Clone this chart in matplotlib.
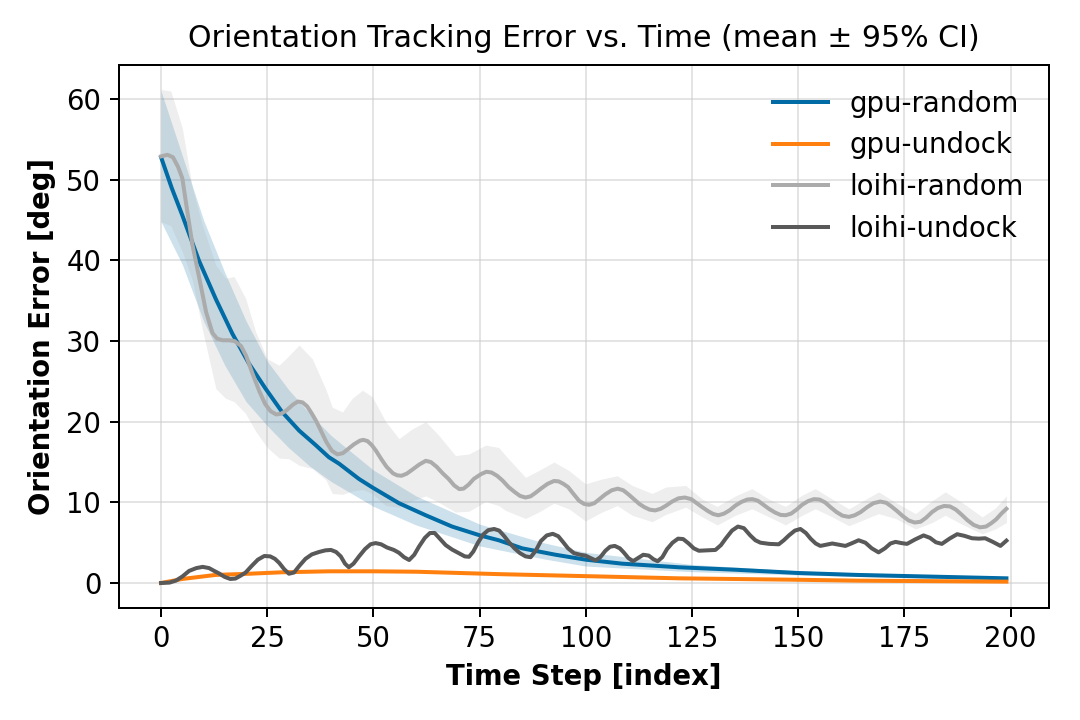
import matplotlib
matplotlib.use("Agg")
import matplotlib.pyplot as plt

# ---------------- data ----------------
series_names = ["gpu-random", "gpu-undock", "loihi-random", "loihi-undock"]

# gpu-random mean and CI
gpu_random_t = [0, 2.5, 5, 8.9, 12.9, 16.8, 20.7, 24.6, 28.5, 32.5, 36.4, 39.5, 41.9, 46.6,
                49.9, 56, 62.3, 68.5, 75.1, 79.5, 85, 92.9, 99.9, 108.5, 121.9, 135,
                150, 164, 199]
gpu_random_mean = [52.8, 49.0, 45.6, 40.0, 35.2, 30.9, 27.2, 24.1, 21.2, 18.9, 17.1, 15.6, 14.8,
                   12.9, 11.8, 9.9, 8.4, 7.0, 5.9, 5.3, 4.3, 3.5, 2.9, 2.4, 1.95, 1.65,
                   1.24, 1.0, 0.58]
gpu_random_ci_t = [0, 5, 10, 15, 20, 25, 30, 35, 40, 50, 60, 75, 90, 100, 125, 150, 175, 199]
gpu_random_hi = [61.0, 53.0, 45.0, 38.5, 32.5, 27.5, 24.0, 21.0, 18.3, 14.0, 10.8, 7.3,
                 5.0, 3.8, 2.3, 1.5, 1.05, 0.75]
gpu_random_lo = [44.8, 39.5, 32.5, 27.0, 22.5, 19.5, 16.8, 14.5, 12.6, 9.5, 7.2, 4.6,
                 3.0, 2.1, 1.4, 1.0, 0.65, 0.42]

# gpu-undock mean and CI
gpu_undock_t = [0, 5, 12.8, 20.7, 28.5, 39.5, 50, 60, 79.5, 100, 122, 150, 164, 199]
gpu_undock_mean = [0.0, 0.5, 1.0, 1.15, 1.33, 1.45, 1.45, 1.4, 1.1, 0.85, 0.58, 0.4, 0.29, 0.17]
gpu_undock_hi = [0.05, 0.6, 1.1, 1.27, 1.45, 1.57, 1.57, 1.52, 1.2, 0.95, 0.66, 0.47, 0.35, 0.22]
gpu_undock_lo = [0.0, 0.4, 0.9, 1.03, 1.21, 1.33, 1.33, 1.28, 1.0, 0.75, 0.5, 0.33, 0.23, 0.12]

# loihi-random mean
loihi_random_t = [0, 1.5, 2.8, 4, 5, 6.2, 7.4, 9, 10.6, 12.1, 13.2, 14.5, 16, 17.3, 18.8,
                  20, 21.5, 23.2, 24.5, 25.8, 27.1, 28.3, 29.5, 31, 32.2, 33.3, 34.4, 35.5,
                  36.6, 37.8, 38.9, 40.2, 41.5, 42.8, 44, 45.4, 46.8, 47.6, 48.6, 49.6,
                  50.6, 51.8, 53.1, 54.6, 55.6, 56.6, 57.8, 59, 60.8, 62.3, 63.5, 64.9,
                  66.3, 67.7, 69, 70.2, 71.2, 72.4, 73.6, 75.3, 76.6, 77.8, 79.1, 80.4,
                  81.8, 83.2, 84.5, 85.8, 87, 88.2, 89.4, 91, 92.5, 93.6, 94.7, 95.8, 97,
                  98.4, 99.6, 100.8, 102, 103.2, 104.6, 106.1, 107.5, 108.8, 110, 111.3,
                  112.6, 113.8, 115, 116.3, 117.6, 118.9, 120.3, 121.8, 123.3, 124.8,
                  126.1, 127.4, 128.8, 130, 131.2, 132.5, 133.8, 135.2, 136.6, 138, 139.2,
                  140.5, 141.8, 143.1, 144.5, 145.8, 147, 148.3, 149.6, 150.9, 152.3,
                  153.7, 155, 156.3, 157.6, 159, 160.4, 161.9, 163.3, 164.7, 166.2, 167.7,
                  169.3, 170.7, 171.9, 173.2, 174.6, 176, 177.4, 178.8, 180.1, 181.5,
                  182.9, 184.3, 185.7, 187.1, 188.4, 189.8, 191.3, 192.8, 194.2, 195.4,
                  196.6, 197.8, 199]
loihi_random_mean = [52.9, 53.1, 52.8, 51.6, 50.2, 46.0, 41.9, 37.8, 33.6, 31.0, 30.3, 30.1,
                     30.1, 30.0, 29.4, 28.2, 26.0, 23.7, 22.2, 21.3, 20.9, 21.0, 21.4, 22.1,
                     22.5, 22.4, 21.9, 21.0, 20.0, 18.7, 17.5, 16.4, 15.95, 16.1, 16.6, 17.2,
                     17.65, 17.75, 17.6, 17.1, 16.4, 15.4, 14.4, 13.6, 13.35, 13.3, 13.55,
                     14.0, 14.7, 15.15, 15.0, 14.4, 13.6, 12.9, 12.1, 11.65, 11.7, 12.2,
                     12.9, 13.5, 13.8, 13.7, 13.3, 12.7, 11.9, 11.3, 10.8, 10.6, 10.75,
                     11.2, 11.7, 12.3, 12.65, 12.6, 12.3, 11.9, 11.1, 10.2, 9.8, 9.7, 9.9,
                     10.4, 11.0, 11.5, 11.7, 11.5, 11.0, 10.4, 9.8, 9.4, 9.1, 9.0, 9.2, 9.6,
                     10.1, 10.5, 10.6, 10.4, 9.9, 9.4, 8.9, 8.55, 8.4, 8.6, 9.0, 9.6, 10.05,
                     10.35, 10.4, 10.2, 9.7, 9.2, 8.75, 8.45, 8.4, 8.6, 9.1, 9.7, 10.15,
                     10.4, 10.35, 10.0, 9.4, 8.8, 8.35, 8.2, 8.4, 8.8, 9.4, 9.9, 10.1, 9.95,
                     9.5, 8.95, 8.3, 7.75, 7.5, 7.6, 8.1, 8.8, 9.3, 9.55, 9.5, 9.1, 8.5,
                     7.8, 7.2, 6.9, 7.0, 7.4, 7.9, 8.6, 9.2]

# loihi-random CI
loihi_random_ci_t = [0, 2.3, 5, 7.4, 9.7, 12.9, 15.2, 17.2, 19.9, 22.3, 25, 27.8, 30.1, 32.5,
                     35.6, 38.8, 40.3, 42.7, 45, 47.4, 49.7, 52.9, 56, 59.1, 62.3, 65.4,
                     69.3, 72.5, 76.4, 79.5, 81.1, 85.8, 88.9, 92.5, 96, 99.9, 103.8, 107.4,
                     110.9, 115.6, 118.8, 123.5, 127.4, 130.9, 135.2, 139.1, 143.1, 147,
                     150.9, 154, 158, 161.9, 168.9, 172.9, 177.6, 181.5, 184.6, 188.5,
                     193.3, 196.4, 199]
loihi_random_hi = [61.2, 61.0, 56.4, 48.9, 44.4, 39.4, 37.8, 38.0, 35.3, 31.1, 27.8, 27.0,
                   28.2, 29.5, 27.8, 24.0, 21.8, 21.2, 22.9, 23.9, 23.1, 20.0, 17.9, 19.1,
                   20.0, 18.3, 15.8, 16.0, 17.1, 16.8, 15.8, 13.1, 13.95, 15.0, 13.95, 12.3,
                   12.9, 13.3, 12.1, 11.1, 11.9, 12.1, 10.4, 9.5, 10.8, 11.7, 10.4, 9.5,
                   10.9, 11.7, 10.4, 9.2, 11.3, 10.0, 8.6, 10.2, 11.3, 10.0, 8.2, 9.3, 10.8]
loihi_random_lo = [44.8, 44.3, 41.1, 37.5, 31.5, 24.1, 22.9, 22.5, 21.0, 18.8, 16.8, 15.5,
                   15.4, 14.6, 14.2, 12.8, 11.1, 11.0, 11.4, 11.6, 11.1, 9.6, 9.4, 10.2,
                   10.8, 10.0, 8.8, 8.9, 10.1, 9.6, 9.0, 8.0, 8.8, 9.9, 9.2, 7.7, 8.8,
                   9.6, 8.4, 7.6, 8.5, 9.4, 8.2, 7.2, 8.4, 9.2, 8.2, 7.2, 8.4, 9.2, 8.2,
                   7.1, 8.6, 8.0, 6.7, 7.5, 8.4, 7.3, 6.1, 6.7, 7.5]

# loihi-undock mean
loihi_undock_t = [0, 2, 3.5, 5, 6.6, 8.3, 9.8, 11.3, 12.5, 13.6, 15, 16.3, 17.5, 18.7,
                  19.9, 21.3, 22.8, 24.3, 25.7, 26.8, 27.8, 29, 30.1, 31.3, 32.5, 34, 35.5,
                  37.2, 38.7, 40, 41.2, 42.3, 43.3, 44.2, 45.3, 46.6, 48, 49.3, 50.5, 51.8,
                  53.2, 54.8, 56, 57.2, 58.4, 59.6, 60.7, 62.1, 63.3, 64.4, 65.6, 67, 68.5,
                  70.1, 71.5, 72.5, 73.5, 74.6, 75.8, 77, 78.4, 79.6, 80.8, 81.9, 83.2,
                  84.5, 85.8, 87, 88.2, 89.4, 90.8, 92.2, 93.5, 94.6, 95.8, 97.2, 98.7,
                  99.9, 101.1, 102.3, 103.4, 104.6, 105.7, 106.8, 108, 108.9, 110, 111.1,
                  112.3, 113.5, 114.8, 115.9, 116.9, 118, 119.1, 120.4, 121.7, 122.9,
                  124.2, 125.4, 126.6, 128.5, 130.5, 131.8, 132.9, 134.4, 135.8, 137.2,
                  138.7, 139.9, 141.1, 143.2, 145.4, 146.6, 147.8, 149.2, 150.5, 151.8,
                  152.9, 154.1, 155.2, 156.6, 158, 159.6, 161.1, 162.7, 164.2, 165.8,
                  167.3, 168.9, 170.4, 171.7, 172.9, 174.3, 175.6, 177.5, 179.5, 181,
                  182.4, 183.8, 185.6, 187.4, 189.1, 190.9, 192.5, 194, 195.8, 197.6, 199]
loihi_undock_mean = [0.0, 0.05, 0.3, 0.8, 1.5, 1.85, 2.0, 1.85, 1.5, 1.2, 0.75, 0.5, 0.55,
                     0.9, 1.3, 2.1, 2.9, 3.35, 3.3, 3.0, 2.5, 1.7, 1.15, 1.3, 2.1, 3.0, 3.55,
                     3.85, 4.05, 4.1, 3.85, 3.3, 2.4, 1.95, 2.4, 3.3, 4.2, 4.8, 4.95, 4.8,
                     4.4, 4.1, 3.75, 3.2, 2.85, 3.5, 4.5, 5.6, 6.2, 6.2, 5.5, 4.7, 4.15,
                     3.7, 3.3, 3.25, 3.9, 5.0, 6.0, 6.55, 6.7, 6.5, 5.8, 5.05, 4.3, 3.7,
                     3.3, 3.2, 4.0, 5.2, 5.9, 6.1, 5.8, 5.1, 4.3, 3.7, 3.5, 3.4, 3.1, 2.8,
                     3.2, 4.0, 4.5, 4.6, 4.3, 3.8, 3.1, 2.7, 3.1, 3.5, 3.4, 2.95, 2.7, 3.2,
                     4.2, 5.0, 5.5, 5.45, 4.9, 4.3, 4.0, 4.05, 4.1, 4.7, 5.5, 6.5, 7.0, 6.8,
                     5.9, 5.3, 5.0, 4.85, 4.8, 5.3, 5.9, 6.5, 6.7, 6.2, 5.5, 4.9, 4.6, 4.75,
                     4.9, 4.75, 4.6, 4.95, 5.3, 5.0, 4.3, 3.8, 4.3, 4.9, 5.1, 4.95, 4.85,
                     5.4, 5.9, 5.6, 5.05, 4.85, 5.5, 6.05, 5.85, 5.55, 5.5, 5.55, 5.1, 4.6,
                     5.25]

colors = ["#006BA4", "#FF800E", "#ABABAB", "#595959"]

title = "Orientation Tracking Error vs. Time (mean \u00b1 95% CI)"
xlabel = "Time Step [index]"
ylabel = "Orientation Error [deg]"

# ---------------- plot ----------------
plt.rcParams["font.family"] = ["DejaVu Sans"]
fig, ax = plt.subplots(figsize=(6, 4), dpi=180)
fig.subplots_adjust(left=0.110, right=0.971, top=0.910, bottom=0.156)

lw = 1.6
ax.fill_between(gpu_random_ci_t, gpu_random_lo, gpu_random_hi, color=colors[0], alpha=0.2, lw=0)
ax.plot(gpu_random_t, gpu_random_mean, color=colors[0], lw=lw, label=series_names[0],
        solid_joinstyle="round")

ax.fill_between(gpu_undock_t, gpu_undock_lo, gpu_undock_hi, color=colors[1], alpha=0.2, lw=0)
ax.plot(gpu_undock_t, gpu_undock_mean, color=colors[1], lw=lw, label=series_names[1],
        solid_joinstyle="round")

ax.fill_between(loihi_random_ci_t, loihi_random_lo, loihi_random_hi, color=colors[2], alpha=0.2, lw=0)
ax.plot(loihi_random_t, loihi_random_mean, color=colors[2], lw=lw, label=series_names[2],
        solid_joinstyle="round")

ax.plot(loihi_undock_t, loihi_undock_mean, color=colors[3], lw=lw, label=series_names[3],
        solid_joinstyle="round")

ax.set_title(title, fontsize=12, pad=7)
ax.set_xlabel(xlabel, fontsize=11, fontweight="bold")
ax.set_ylabel(ylabel, fontsize=11, fontweight="bold")
ax.tick_params(labelsize=11)
ax.grid(True, color="#cccccc", alpha=0.6, lw=0.7)
ax.set_axisbelow(True)
ax.set_xticks([0, 25, 50, 75, 100, 125, 150, 175, 200])
ax.legend(loc="upper right", frameon=False, fontsize=11)

fig.savefig("out.png", dpi=180)
